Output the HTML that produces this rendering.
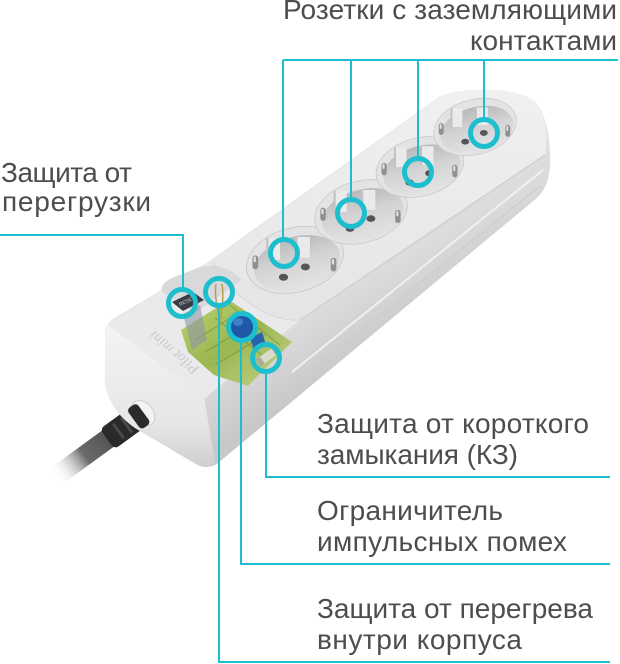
<!DOCTYPE html>
<html><head><meta charset="utf-8">
<style>
html,body{margin:0;padding:0;background:#fff;}
svg{display:block;}
.t{font-family:"Liberation Sans","DejaVu Sans",sans-serif;font-size:28px;fill:#4d4d4d;}
</style></head><body>
<svg width="620" height="664" viewBox="0 0 620 664" xmlns="http://www.w3.org/2000/svg">
<defs>
  <linearGradient id="body" x1="330" y1="200" x2="410" y2="330" gradientUnits="userSpaceOnUse">
    <stop offset="0" stop-color="#e7e7e9"/>
    <stop offset="0.6" stop-color="#dbdbdd"/>
    <stop offset="1" stop-color="#c8c8ca"/>
  </linearGradient>
  <linearGradient id="topf" x1="0" y1="0" x2="0" y2="1">
    <stop offset="0" stop-color="#f0f0f2"/>
    <stop offset="1" stop-color="#e5e5e7"/>
  </linearGradient>
  <linearGradient id="front" x1="0" y1="0" x2="0" y2="1">
    <stop offset="0" stop-color="#f4f4f5"/>
    <stop offset="0.7" stop-color="#e6e6e8"/>
    <stop offset="1" stop-color="#cfcfd1"/>
  </linearGradient>
  <linearGradient id="rec" x1="0" y1="0" x2="0" y2="1">
    <stop offset="0" stop-color="#b9b9bb"/>
    <stop offset="0.45" stop-color="#d3d3d5"/>
    <stop offset="1" stop-color="#e3e3e5"/>
  </linearGradient>
  <linearGradient id="cab" x1="0" y1="0" x2="1" y2="0">
    <stop offset="0" stop-color="#505052"/>
    <stop offset="0.5" stop-color="#6a6a6c"/>
    <stop offset="1" stop-color="#ffffff" stop-opacity="0"/>
  </linearGradient>
  <linearGradient id="pcb" x1="0" y1="0" x2="1" y2="1">
    <stop offset="0" stop-color="#b9cf62"/>
    <stop offset="0.5" stop-color="#93b244"/>
    <stop offset="1" stop-color="#c9d68a"/>
  </linearGradient>
  <g id="sock">
    <ellipse rx="43" ry="28" transform="rotate(-15)" fill="#e3e3e5" stroke="#cacacc" stroke-width="0.8"/>
    <ellipse cx="1" cy="3" rx="38" ry="23" transform="rotate(-15)" fill="url(#rec)"/>
    <rect x="-25" y="-19" width="12" height="19" fill="#eaeaec"/>
    <rect x="-25" y="-19" width="2" height="19" fill="#c2c2c4"/>
    <rect x="0" y="-20" width="13" height="18" fill="#eaeaec"/>
    <rect x="0" y="-20" width="2" height="18" fill="#c2c2c4"/>
    <ellipse cx="-10" cy="15" rx="4" ry="3" fill="#555557"/>
    <ellipse cx="9" cy="6" rx="4" ry="3" fill="#555557"/>
    <rect x="-37" y="-4" width="5" height="12" rx="2.5" fill="#909092"/>
    <rect x="-36" y="-3" width="2" height="5" rx="1" fill="#e0e0e2"/>
    <rect x="31" y="-2" width="5" height="12" rx="2.5" fill="#909092"/>
    <rect x="32" y="-1" width="2" height="5" rx="1" fill="#e0e0e2"/>
  </g>
</defs>

<!-- cable -->
<g transform="translate(146,411) rotate(144)">
  <rect x="40" y="-10" width="72" height="20" fill="url(#cab)"/>
  <rect x="0" y="-12.5" width="48" height="25" rx="5" fill="#2a2a2c"/>
  <line x1="14" y1="-9" x2="14" y2="9" stroke="#4a4a4c" stroke-width="3"/>
  <line x1="24" y1="-9" x2="24" y2="9" stroke="#4a4a4c" stroke-width="3"/>
  <line x1="34" y1="-9" x2="34" y2="9" stroke="#4a4a4c" stroke-width="3"/>
</g>

<!-- body silhouette -->
<path d="M105,338 C104,326 110,320 118,316 L208,262 L440,96 C470,86 515,88 533,100 C546,110 551,140 550,165 C549,180 545,190 538,197 L218,463 C212,468 202,468 196,464 L135,428 C118,416 106,400 105,380 Z" fill="url(#body)"/>
<path d="M543,170 L292,372" stroke="#f0f0f2" stroke-width="2" fill="none"/>
<path d="M540,186 L250,420" stroke="#cbcbcd" stroke-width="1" fill="none"/>
<!-- housing top face -->
<path d="M108,325 L208,262 C235,300 270,322 300,320 L205,398 Z" fill="#eaeaec"/>
<!-- socket section top face -->
<path d="M213,262 L440,96 C470,86 515,88 533,100 C545,110 549,135 545,155 L300,320 C270,322 235,300 213,262 Z" fill="url(#topf)"/>
<path d="M545,155 L300,320" stroke="#d0d0d2" stroke-width="1.5" fill="none"/>
<path d="M213,262 C235,300 270,322 300,320" stroke="#d6d6d8" stroke-width="1" fill="none"/>
<!-- front face -->
<path d="M108,325 L205,398 L215,463 C210,468 202,468 196,464 L135,428 C118,416 106,400 105,380 L105,338 C105,332 106,328 108,325 Z" fill="url(#front)"/>
<path d="M205,398 L215,463" stroke="#d2d2d4" stroke-width="1" fill="none"/>
<!-- cable collar -->
<ellipse cx="143" cy="413" rx="10" ry="14" transform="rotate(-40 143 413)" fill="#f3f3f4" stroke="#cdcdcf" stroke-width="1"/>
<g transform="translate(146,411) rotate(144)">
  <rect x="3" y="-12.5" width="12" height="25" rx="4" fill="#2a2a2c"/>
</g>

<!-- sockets -->
<use href="#sock" transform="translate(295,260) scale(1.15)"/>
<use href="#sock" transform="translate(361,212) scale(1.1)"/>
<use href="#sock" transform="translate(420,167) scale(1.04)"/>
<use href="#sock" transform="translate(475,127) scale(0.98)"/>

<!-- brand text on housing -->
<text x="0" y="0" transform="translate(200,368) rotate(-140)" font-family="Liberation Serif, serif" font-style="italic" font-size="15" fill="#cbcbcd">Pilot mini</text>

<!-- window / PCB -->
<path d="M162,292 C160,286 165,281 172,278 L200,267 C210,264 222,266 232,272 L242,280 L195,313 Z" fill="#d9d9db"/>
<path d="M181,330 L229,300 L292,342 L248,386 L214,375 L188,352 Z" fill="url(#pcb)" opacity="0.92"/>
<path d="M195,340 L240,312 M205,352 L255,322 M215,365 L265,335 M230,305 L280,345 M215,318 L262,355" stroke="#6f8f30" stroke-width="1" fill="none" opacity="0.7"/>
<path d="M183,314 L200,305 L207,340 L192,350 Z" fill="#8e96aa" opacity="0.6"/>
<path d="M172,302 L193,292 L204,300 L183,311 Z" fill="#3a3d46"/>
<text x="0" y="0" transform="translate(180,306) rotate(-25)" font-family="Liberation Sans, sans-serif" font-size="5" fill="#c8ccd6">RESET</text>
<path d="M216,284 C214,295 218,310 220,322 M222,284 C224,296 222,310 220,322" stroke="#b59e55" stroke-width="1.5" fill="none"/>
<circle cx="242" cy="327" r="12" fill="#1e58a6"/>
<ellipse cx="238" cy="322" rx="5" ry="4" fill="#3f80c9"/>
<path d="M250,338 L262,332 L266,345 L254,350 Z" fill="#2a62ae"/>
<g transform="translate(268,356) rotate(-35)">
  <rect x="-12" y="-4" width="24" height="8" rx="3" fill="#d8dcc8"/>
  <rect x="-12" y="-4" width="5" height="8" fill="#a8aaa0"/>
  <rect x="7" y="-4" width="5" height="8" fill="#a8aaa0"/>
</g>

<!-- connectors -->
<g stroke="#1dbfcf" stroke-width="2" fill="none">
  <path d="M283,60 L618,60"/>
  <path d="M283,60 L283,239"/>
  <path d="M351,60 L351,199"/>
  <path d="M418,60 L418,158"/>
  <path d="M484,60 L484,119"/>
  <path d="M0,235 L183,235 L183,288"/>
  <path d="M219,306 L219,662 L610,662"/>
  <path d="M241,341 L241,564 L610,564"/>
  <path d="M266,372 L266,477 L610,477"/>
</g>
<g stroke="#1dbfcf" stroke-width="5" fill="none">
  <circle cx="484" cy="133" r="13.5"/>
  <circle cx="418" cy="172" r="13.5"/>
  <circle cx="351" cy="213" r="13.5"/>
  <circle cx="284" cy="253" r="13.5"/>
  <circle cx="182" cy="303" r="13.5"/>
  <circle cx="219" cy="292" r="13.5"/>
  <circle cx="242" cy="327" r="13.5"/>
  <circle cx="266" cy="358" r="13.5"/>
</g>

<!-- labels -->
<text class="t" x="283" y="19" textLength="334" lengthAdjust="spacing">Розетки с заземляющими</text>
<text class="t" x="470" y="50" textLength="147" lengthAdjust="spacing">контактами</text>
<text class="t" x="1" y="182" textLength="131" lengthAdjust="spacing">Защита от</text>
<text class="t" x="2" y="211" textLength="149" lengthAdjust="spacing">перегрузки</text>
<text class="t" x="317" y="433" textLength="272" lengthAdjust="spacing">Защита от короткого</text>
<text class="t" x="317" y="464" textLength="201" lengthAdjust="spacing">замыкания (КЗ)</text>
<text class="t" x="317" y="520" textLength="186" lengthAdjust="spacing">Ограничитель</text>
<text class="t" x="317" y="551" textLength="250" lengthAdjust="spacing">импульсных помех</text>
<text class="t" x="317" y="618" textLength="276" lengthAdjust="spacing">Защита от перегрева</text>
<text class="t" x="317" y="649" textLength="205" lengthAdjust="spacing">внутри корпуса</text>
</svg>
</body></html>
